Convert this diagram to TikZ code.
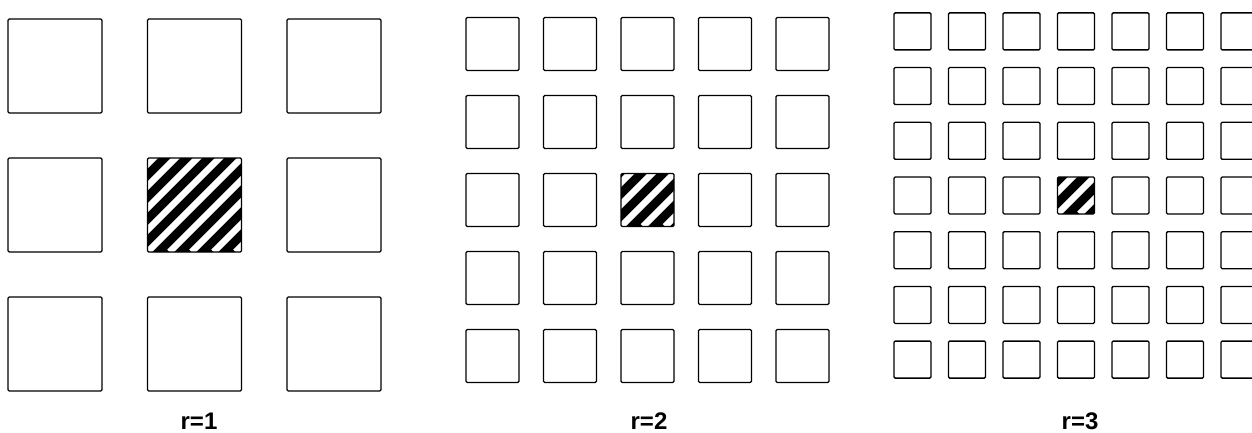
\documentclass[tikz,border=0pt]{standalone}
\usepackage{fontspec}
\setmainfont{Liberation Sans}

\begin{document}
\begin{tikzpicture}[
  x=1pt, y=-1pt,
  cell/.style={draw, line width=1.3pt, rounded corners=1.2pt, inner sep=0pt, fill=white},
  hatched/.style={cell, fill=black, path picture={
      \foreach \k in {-6,...,6}
        \draw[white, line width=6.5pt] ([xshift=\k*22pt]path picture bounding box.south west) -- ++(150pt,150pt);
    }},
  lab/.style={font=\fontsize{24}{28}\selectfont\bfseries, anchor=base, inner sep=0pt}
]
\useasboundingbox (0,0) rectangle (1252,433);

% --- Grid r=1 (3x3) ---------------------------------------------------------
\foreach \i in {1,...,3}
  \foreach \j in {1,...,3} {
    \ifnum\i\j=22 \else
      \node[cell, minimum size=94pt] (a-\i-\j) at ({194.5+(\j-2)*139.5},{205+(\i-2)*139}) {};
    \fi
  }
\node[hatched, minimum size=94pt] (a-2-2) at (194.5,205) {};
\node[lab] (l1) at (199,429) {r=1};

% --- Grid r=2 (5x5) ---------------------------------------------------------
\foreach \i in {1,...,5}
  \foreach \j in {1,...,5} {
    \ifnum\i\j=33 \else
      \node[cell, minimum size=53pt] (b-\i-\j) at ({647.5+(\j-3)*77.5},{200+(\i-3)*78}) {};
    \fi
  }
\node[hatched, minimum size=53pt] (b-3-3) at (647.5,200) {};
\node[lab] (l2) at (649,429) {r=2};

% --- Grid r=3 (7x7), right column cut by the page --------------------------
\foreach \i in {1,...,7}
  \foreach \j in {1,...,7} {
    \ifnum\i\j=44 \else
      \node[cell, minimum size=37pt] (c-\i-\j) at ({1076+(\j-4)*54.5},{195.5+(\i-4)*54.7}) {};
    \fi
  }
\node[hatched, minimum size=37pt] (c-4-4) at (1076,195.5) {};
\node[lab] (l3) at (1080,429) {r=3};

\end{tikzpicture}
\end{document}
